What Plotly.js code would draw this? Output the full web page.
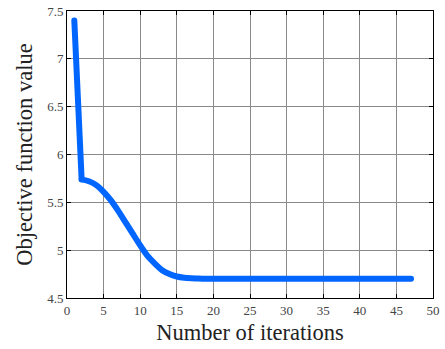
<!DOCTYPE html>
<html><head><meta charset="utf-8">
<script src="https://cdn.plot.ly/plotly-3.0.1.min.js"></script>
<style>body{margin:0;background:#fff}#plot{width:445px;height:349px}
path.js-line{stroke-linecap:round !important;stroke-linejoin:round !important}</style>
</head><body><div id="plot"></div>
<script>
const iterations = [1,2,3,4,5,6,7,8,9,10,11,12,13,14,15,16,17,18,19,20,21,22,23,24,25,26,27,28,29,30,31,32,33,34,35,36,37,38,39,40,41,42,43,44,45,46,47];
const objective = [7.40,5.74,5.72,5.68,5.61,5.52,5.41,5.29,5.17,5.05,4.94,4.86,4.79,4.75,4.725,4.712,4.706,4.703,4.701,4.70,4.70,4.70,4.70,4.70,4.70,4.70,4.70,4.70,4.70,4.70,4.70,4.70,4.70,4.70,4.70,4.70,4.70,4.70,4.70,4.70,4.70,4.70,4.70,4.70,4.70,4.70,4.70];
const xTicks = [0,5,10,15,20,25,30,35,40,45,50];
const yTicks = [4.5,5,5.5,6,6.5,7,7.5];

const font = 'Liberation Serif, serif';
const axisCommon = {
  showline: true, linecolor: '#000', linewidth: 1, mirror: 'ticks',
  ticks: 'inside', ticklen: 4, tickcolor: '#000',
  showgrid: true, gridcolor: '#8a8a8a', gridwidth: 1,
  zeroline: false, tickfont: {family: font, size: 13, color: '#444'}
};
const lineColor = '#0066ff';
Plotly.newPlot('plot', [{
  x: iterations.slice(0, 2), y: objective.slice(0, 2), type: 'scatter', mode: 'lines',
  line: {color: lineColor, width: 6}
}, {
  x: iterations.slice(1), y: objective.slice(1), type: 'scatter', mode: 'lines',
  line: {color: lineColor, width: 6, shape: 'spline', smoothing: 0.6}
}], {
  width: 445, height: 349,
  margin: {l: 67, r: 12, t: 11, b: 51},
  paper_bgcolor: '#fff', plot_bgcolor: '#fff',
  showlegend: false,
  xaxis: Object.assign({}, axisCommon, {
    range: [0, 50], tickvals: xTicks, ticktext: xTicks.map(String),
    title: {text: 'Number of iterations', font: {family: font, size: 22.5, color: '#222'}, standoff: 7}
  }),
  yaxis: Object.assign({}, axisCommon, {
    range: [4.5, 7.5], tickvals: yTicks, ticktext: yTicks.map(String),
    title: {text: 'Objective function value', font: {family: font, size: 22.5, color: '#222'}, standoff: 8}
  })
}, {staticPlot: true});
</script></body></html>
